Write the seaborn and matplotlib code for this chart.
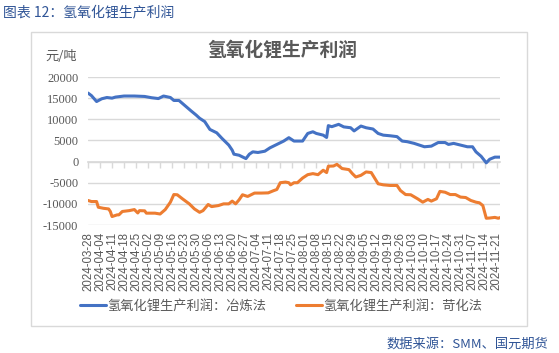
import pandas as pd
import matplotlib.pyplot as plt
import matplotlib.dates as mdates
from matplotlib.patches import Rectangle
import seaborn as sns

# 冶炼法 (blue)
smelt_dates = ["2024-03-28", "2024-03-30", "2024-04-02", "2024-04-05", "2024-04-08", "2024-04-11",
               "2024-04-13", "2024-04-18", "2024-04-24", "2024-04-30", "2024-05-04", "2024-05-08",
               "2024-05-11", "2024-05-15", "2024-05-17", "2024-05-20", "2024-05-23", "2024-05-27",
               "2024-05-30", "2024-06-01", "2024-06-04", "2024-06-07", "2024-06-11", "2024-06-14",
               "2024-06-18", "2024-06-20", "2024-06-21", "2024-06-24", "2024-06-28", "2024-06-30",
               "2024-07-02", "2024-07-05", "2024-07-09", "2024-07-12", "2024-07-16", "2024-07-20",
               "2024-07-23", "2024-07-26", "2024-07-31", "2024-08-03", "2024-08-06", "2024-08-08",
               "2024-08-12", "2024-08-14", "2024-08-15", "2024-08-17", "2024-08-21", "2024-08-24",
               "2024-08-28", "2024-08-30", "2024-09-03", "2024-09-06", "2024-09-10", "2024-09-13",
               "2024-09-16", "2024-09-20", "2024-09-24", "2024-09-27", "2024-09-30", "2024-10-04",
               "2024-10-07", "2024-10-10", "2024-10-14", "2024-10-18", "2024-10-22", "2024-10-24",
               "2024-10-27", "2024-10-31", "2024-11-04", "2024-11-07", "2024-11-09", "2024-11-12",
               "2024-11-15", "2024-11-17", "2024-11-20", "2024-11-23"]
smelt_vals = [16200, 15600, 14200, 14850, 15150, 15000, 15250, 15500, 15500, 15400, 15100, 14900,
              15500, 15150, 14450, 14450, 13400, 12000, 11000, 10250, 9450, 7600, 6800, 5500,
              3900, 2700, 1750, 1500, 700, 1750, 2300, 2150, 2450, 3250, 4050, 4850,
              5650, 4850, 4850, 6650, 7050, 6650, 6250, 5700, 8500, 8250, 8800, 8200,
              8000, 7250, 8400, 8000, 7700, 6650, 6250, 6100, 5900, 4850, 4700, 4300,
              3900, 3500, 3650, 4500, 4500, 4050, 4300, 3900, 3500, 3500, 2300, 1250,
              -300, 550, 1050, 1050]

# 苛化法 (orange)
caust_dates = ["2024-03-28", "2024-03-30", "2024-04-02", "2024-04-03", "2024-04-06", "2024-04-09",
               "2024-04-10", "2024-04-11", "2024-04-14", "2024-04-15", "2024-04-17", "2024-04-21",
               "2024-04-24", "2024-04-26", "2024-04-27", "2024-04-30", "2024-05-01", "2024-05-06",
               "2024-05-09", "2024-05-12", "2024-05-15", "2024-05-17", "2024-05-19", "2024-05-22",
               "2024-05-26", "2024-05-29", "2024-06-01", "2024-06-03", "2024-06-06", "2024-06-08",
               "2024-06-12", "2024-06-15", "2024-06-18", "2024-06-20", "2024-06-22", "2024-06-24",
               "2024-06-26", "2024-06-29", "2024-07-03", "2024-07-07", "2024-07-11", "2024-07-14",
               "2024-07-16", "2024-07-18", "2024-07-21", "2024-07-23", "2024-07-24", "2024-07-26",
               "2024-07-28", "2024-07-31", "2024-08-03", "2024-08-06", "2024-08-09", "2024-08-12",
               "2024-08-14", "2024-08-15", "2024-08-18", "2024-08-20", "2024-08-23", "2024-08-27",
               "2024-08-29", "2024-08-31", "2024-09-03", "2024-09-06", "2024-09-09", "2024-09-13",
               "2024-09-16", "2024-09-20", "2024-09-24", "2024-09-26", "2024-09-29", "2024-10-02",
               "2024-10-06", "2024-10-09", "2024-10-12", "2024-10-14", "2024-10-17", "2024-10-19",
               "2024-10-22", "2024-10-25", "2024-10-28", "2024-10-31", "2024-11-03", "2024-11-06",
               "2024-11-09", "2024-11-11", "2024-11-13", "2024-11-15", "2024-11-17", "2024-11-20",
               "2024-11-22", "2024-11-23"]
caust_vals = [-9200, -9450, -9450, -10800, -11050, -11200, -11800, -13000, -12600, -12600, -11800, -11600,
              -11350, -12150, -11600, -11650, -12200, -12200, -12400, -11350, -9600, -7800, -7850, -8800,
              -10000, -11200, -12000, -11600, -10150, -10650, -10400, -10000, -10000, -9350, -10000, -9050,
              -7850, -8250, -7450, -7450, -7400, -6900, -6600, -5000, -4850, -5000, -5500, -5000,
              -5000, -3900, -3100, -2850, -3100, -2050, -2600, -1100, -1050, -650, -1650, -1900,
              -2850, -3650, -3250, -2450, -2600, -5250, -5500, -5650, -5650, -6850, -7800, -7850,
              -8800, -9600, -8950, -9350, -8800, -7050, -7250, -7800, -7800, -8400, -8500, -9200,
              -9600, -9750, -10400, -13400, -13350, -13200, -13400, -13250]

tick_dates = pd.date_range("2024-03-28", "2024-11-21", freq="7D")
y_ticks = [-15000, -10000, -5000, 0, 5000, 10000, 15000, 20000]

GREY = "#595959"
GRID = "#D9D9D9"

sns.set_theme(style="white")
plt.rcParams["font.family"] = ["Noto Sans CJK SC", "DejaVu Sans"]

fig = plt.figure(figsize=(5.59, 3.53), dpi=100)
ax = fig.add_axes([88 / 559, 1 - 225 / 353, 412 / 559, 148 / 353])

# chart frame
fig.patches.append(Rectangle((31 / 559, 1 - 326 / 353), 496 / 559, 294 / 353,
                             transform=fig.transFigure, fill=False, edgecolor=GRID, lw=1))

sns.lineplot(x=pd.to_datetime(smelt_dates), y=smelt_vals, ax=ax, color="#4472C4", lw=2.2,
             label="氢氧化锂生产利润：冶炼法", legend=False)
sns.lineplot(x=pd.to_datetime(caust_dates), y=caust_vals, ax=ax, color="#ED7D31", lw=2.2,
             label="氢氧化锂生产利润：苛化法", legend=False)

ax.set_ylim(-15000, 20000)
ax.set_xlim(pd.Timestamp("2024-03-28"), pd.Timestamp("2024-11-23"))
ax.set_yticks(y_ticks)
ax.set_yticklabels([str(v) for v in y_ticks], family="Liberation Serif", fontsize=9, color=GREY)
ax.set_xticks(tick_dates)
ax.set_xticklabels([d.strftime("%Y-%m-%d") for d in tick_dates], rotation=90,
                   family="Liberation Sans", fontsize=8.3, color=GREY)
ax.tick_params(axis="both", length=0)
ax.tick_params(axis="x", pad=5)
ax.tick_params(axis="y", pad=7)
ax.set_xlabel("")
ax.set_ylabel("")
for s in ax.spines.values():
    s.set_visible(False)
ax.grid(axis="y", color=GRID, lw=1)
ax.set_axisbelow(True)

# zero axis with small tick marks
sec = ax.secondary_xaxis(15000 / 35000)
sec.set_xticks(mdates.date2num(tick_dates))
sec.tick_params(axis="x", length=4, color=GRID, labelbottom=False, labeltop=False, width=1)
for s in sec.spines.values():
    s.set_color(GRID)

fig.text(3 / 559, 1 - 12 / 353, "图表 12：氢氧化锂生产利润", fontsize=10, color="#2F5496",
         va="center", ha="left")
fig.text(282 / 559, 1 - 50 / 353, "氢氧化锂生产利润", fontsize=13.5, color=GREY,
         fontweight="bold", va="center", ha="center")
fig.text(45 / 559, 1 - 56 / 353, "元/吨", fontsize=9.5, color=GREY, va="center", ha="left")
fig.text(548 / 559, 1 - 344 / 353, "数据来源：SMM、国元期货", fontsize=9.5, color="#2F5496",
         va="center", ha="right")

handles, labels = ax.get_legend_handles_labels()
fig.legend(handles, labels, loc="center", bbox_to_anchor=(281 / 559, 1 - 306 / 353), ncol=2,
           frameon=False, fontsize=9.5, handlelength=2.0, columnspacing=2.2, handletextpad=0.1,
           labelcolor=GREY)

fig.savefig("out.png", dpi=100)
